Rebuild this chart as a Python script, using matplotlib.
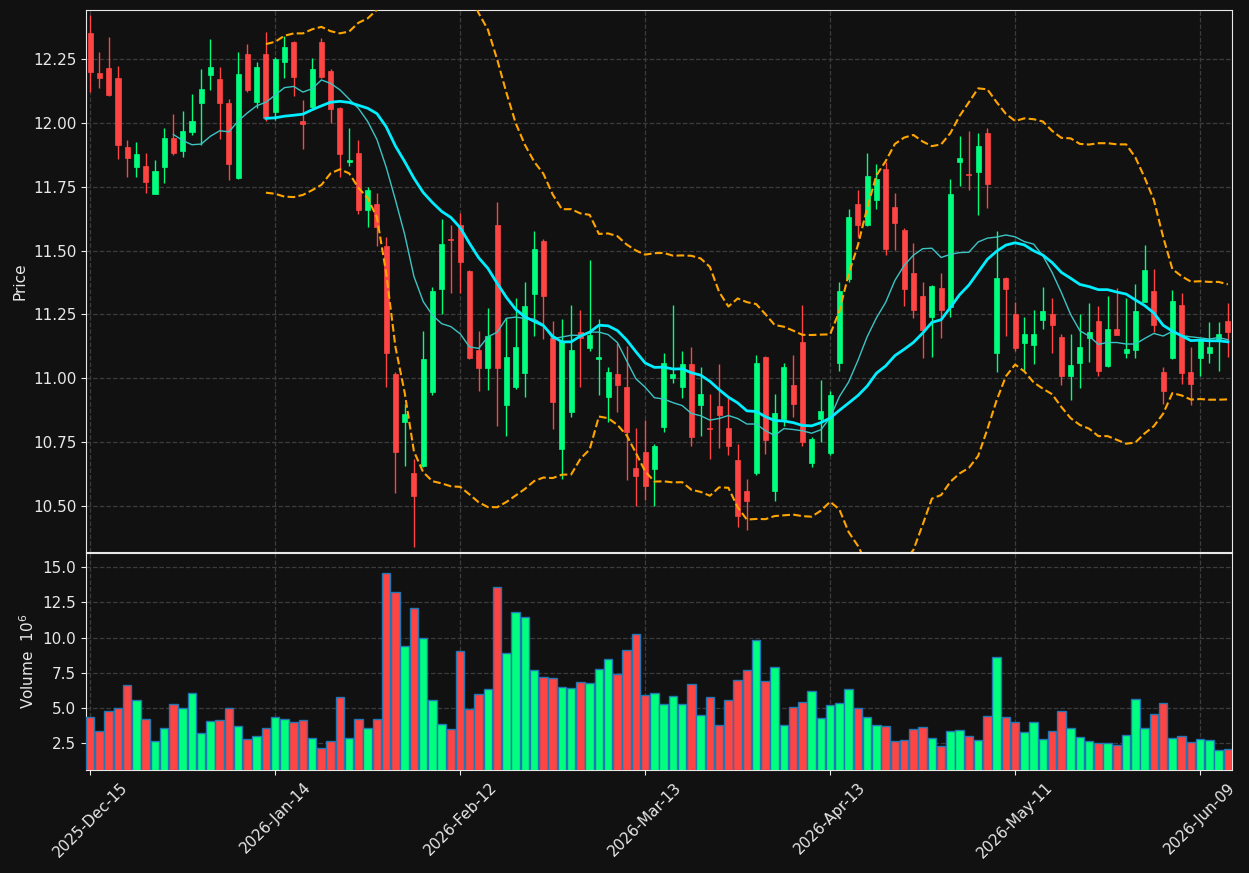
import numpy as np
import pandas as pd
import matplotlib
matplotlib.use("Agg")
import matplotlib.pyplot as plt

opens = [12.354, 12.197, 12.216, 12.176, 11.906, 11.828, 11.831, 11.723, 11.828, 11.942,
         11.891, 11.966, 12.077, 12.190, 12.174, 12.079, 11.786, 12.272, 12.084, 12.272,
         12.045, 12.238, 12.317, 12.009, 12.064, 12.317, 12.205, 12.059, 11.849, 11.884,
         11.659, 11.682, 11.516, 11.015, 10.827, 10.627, 10.657, 10.947, 11.350, 11.545,
         11.602, 11.419, 11.109, 11.040, 11.601, 10.895, 10.963, 11.021, 11.330, 11.538,
         11.159, 10.722, 10.868, 11.179, 11.118, 11.073, 10.927, 11.015, 10.963, 10.646,
         10.712, 10.644, 10.808, 11.002, 10.963, 11.055, 10.895, 10.804, 10.890, 10.804,
         10.677, 10.558, 10.627, 11.082, 10.556, 10.838, 10.972, 11.141, 10.667, 10.838,
         10.708, 11.060, 11.389, 11.682, 11.599, 11.699, 11.820, 11.670, 11.580, 11.411,
         11.321, 11.240, 11.354, 11.279, 11.848, 11.800, 11.809, 11.961, 11.100, 11.392,
         11.250, 11.138, 11.129, 11.227, 11.250, 11.161, 11.009, 11.060, 11.159, 11.223,
         11.047, 11.191, 11.100, 11.111, 11.298, 11.341, 11.022, 11.080, 11.288, 11.022,
         11.080, 11.100, 11.152, 11.223]
highs = [12.423, 12.277, 12.336, 12.223, 11.932, 11.924, 11.882, 11.854, 11.980, 12.036,
         12.048, 12.114, 12.210, 12.329, 12.219, 12.093, 12.277, 12.310, 12.239, 12.355,
         12.258, 12.341, 12.322, 12.090, 12.254, 12.333, 12.210, 12.062, 11.980, 11.932,
         11.748, 11.727, 11.554, 11.022, 10.899, 10.681, 11.186, 11.359, 11.625, 11.602,
         11.646, 11.422, 11.186, 11.273, 11.689, 11.234, 11.313, 11.378, 11.575, 11.547,
         11.224, 11.230, 11.288, 11.266, 11.463, 11.230, 11.043, 11.138, 11.127, 10.803,
         10.835, 10.743, 11.100, 11.288, 11.108, 11.122, 11.045, 10.939, 11.055, 10.923,
         10.743, 10.606, 11.089, 11.085, 10.936, 11.060, 11.089, 11.288, 10.770, 10.991,
         10.951, 11.377, 11.662, 11.738, 11.882, 11.838, 11.848, 11.725, 11.588, 11.531,
         11.375, 11.363, 11.411, 11.779, 11.950, 11.968, 11.959, 11.980, 11.575, 11.395,
         11.298, 11.240, 11.268, 11.356, 11.313, 11.172, 11.172, 11.250, 11.295, 11.281,
         11.322, 11.352, 11.315, 11.370, 11.520, 11.427, 11.043, 11.346, 11.332, 11.122,
         11.159, 11.220, 11.220, 11.295]
lows = [12.120, 12.137, 12.105, 11.858, 11.790, 11.790, 11.725, 11.720, 11.764, 11.875,
        11.865, 11.954, 11.912, 12.131, 11.939, 11.775, 11.780, 12.120, 12.059, 12.007,
        12.011, 12.178, 12.107, 11.898, 12.058, 12.178, 12.000, 11.789, 11.830, 11.643,
        11.591, 11.516, 10.963, 10.551, 10.657, 10.336, 10.652, 10.934, 11.253, 11.332,
        11.332, 11.073, 10.951, 10.955, 10.811, 10.773, 10.958, 10.926, 11.165, 11.152,
        10.801, 10.606, 10.849, 10.963, 11.108, 10.934, 10.828, 10.868, 10.602, 10.500,
        10.522, 10.500, 10.790, 10.981, 10.920, 10.733, 10.773, 10.684, 10.726, 10.697,
        10.415, 10.406, 10.620, 10.704, 10.517, 10.811, 10.849, 10.732, 10.650, 10.749,
        10.699, 11.029, 11.377, 11.554, 11.597, 11.662, 11.482, 11.504, 11.281, 11.234,
        11.077, 11.081, 11.159, 11.240, 11.752, 11.738, 11.640, 11.666, 11.022, 11.165,
        11.108, 11.029, 11.056, 11.193, 11.100, 10.974, 10.913, 10.961, 11.063, 11.009,
        11.043, 11.168, 11.077, 11.077, 11.297, 11.179, 10.899, 11.073, 10.977, 10.893,
        11.009, 11.060, 11.029, 11.084]
closes = [12.202, 12.175, 12.108, 11.912, 11.864, 11.879, 11.770, 11.812, 11.942, 11.884,
          11.969, 12.009, 12.134, 12.220, 12.077, 11.841, 12.193, 12.131, 12.220, 12.021,
          12.251, 12.299, 12.182, 11.998, 12.212, 12.182, 12.056, 11.880, 11.856, 11.659,
          11.737, 11.591, 11.099, 10.710, 10.858, 10.538, 11.074, 11.341, 11.526, 11.542,
          11.456, 11.079, 11.040, 11.163, 11.040, 11.082, 11.122, 11.284, 11.506, 11.321,
          10.906, 11.145, 11.109, 11.159, 11.168, 11.082, 11.024, 10.973, 10.789, 10.616,
          10.576, 10.733, 11.060, 11.015, 11.055, 10.770, 10.936, 10.800, 10.854, 10.732,
          10.459, 10.517, 11.060, 10.756, 10.863, 11.043, 10.899, 10.749, 10.760, 10.869,
          10.934, 11.341, 11.632, 11.599, 11.793, 11.782, 11.508, 11.609, 11.350, 11.268,
          11.190, 11.361, 11.268, 11.722, 11.861, 11.797, 11.910, 11.759, 11.392, 11.350,
          11.118, 11.172, 11.172, 11.261, 11.209, 11.009, 11.051, 11.122, 11.179, 11.029,
          11.191, 11.170, 11.114, 11.261, 11.423, 11.209, 10.950, 11.302, 11.019, 10.977,
          11.152, 11.122, 11.172, 11.179]
volumes_m = [4.34, 3.34, 4.76, 4.98, 6.61, 5.54, 4.19, 2.63, 3.55, 5.26,
             4.98, 6.04, 3.20, 4.05, 4.12, 4.98, 3.70, 2.77, 2.99, 3.55,
             4.34, 4.19, 3.98, 4.12, 2.84, 2.13, 2.63, 5.76, 2.84, 4.19,
             3.55, 4.19, 14.57, 13.22, 9.38, 12.09, 9.95, 5.54, 3.84, 3.48,
             9.03, 4.91, 5.97, 6.33, 13.58, 8.89, 11.80, 11.45, 7.68, 7.18,
             7.11, 6.47, 6.40, 6.82, 6.75, 7.75, 8.46, 7.39, 9.10, 10.24,
             5.90, 6.04, 5.26, 5.83, 5.26, 6.68, 4.48, 5.76, 3.77, 5.54,
             6.97, 7.68, 9.81, 6.90, 7.89, 3.77, 5.05, 5.40, 6.18, 4.27,
             5.19, 5.33, 6.33, 4.98, 4.34, 3.77, 3.70, 2.63, 2.70, 3.48,
             3.63, 2.84, 2.27, 3.34, 3.41, 2.99, 2.70, 4.41, 8.60, 4.34,
             3.98, 3.27, 3.98, 2.77, 3.34, 4.76, 3.55, 2.91, 2.63, 2.49,
             2.49, 2.35, 3.06, 5.62, 3.55, 4.55, 5.33, 2.84, 2.99, 2.56,
             2.77, 2.70, 1.99, 2.06]
tick_labels = ["2025-Dec-15", "2026-Jan-14", "2026-Feb-12", "2026-Mar-13",
               "2026-Apr-13", "2026-May-11", "2026-Jun-09"]

BG = "#111111"
UP = "#00ff7f"
DOWN = "#ff4444"
GRID = "#3c3c3c"
FG = "#e8e8e8"

o = np.array(opens); h = np.array(highs); l = np.array(lows); c = np.array(closes)
v = np.array(volumes_m)
n = len(c)
x = np.arange(n)
up = c >= o
colors = np.where(up, UP, DOWN)

cs = pd.Series(c)
ma10 = cs.rolling(10).mean()
ma20 = cs.rolling(20).mean()
sd20 = cs.rolling(20).std(ddof=0)
bb_up = ma20 + 2 * sd20
bb_lo = ma20 - 2 * sd20

fig = plt.figure(figsize=(12.49, 8.73), dpi=100, facecolor=BG)
ax = fig.add_axes([0.0689, 0.3677, 0.9175, 0.6208], facecolor=BG)
axv = fig.add_axes([0.0689, 0.1180, 0.9175, 0.2486], facecolor=BG, sharex=ax)

for a in (ax, axv):
    for s in a.spines.values():
        s.set_color(FG)
    a.tick_params(colors=FG, labelsize=11)
    a.grid(True, color=GRID, linestyle="--", linewidth=0.9)
    a.set_axisbelow(True)

# candles
ax.vlines(x, l, h, colors=colors, linewidth=1.0, zorder=2)
body_bottom = np.minimum(o, c)
body_h = np.maximum(np.abs(c - o), 0.004)
ax.bar(x, body_h, bottom=body_bottom, width=0.55, color=colors, edgecolor=colors,
       linewidth=0.5, zorder=3)

ax.plot(x, ma10, color="#3cc4c4", linewidth=1.0, zorder=4)
ax.plot(x, ma20, color="#00eeff", linewidth=2.0, zorder=4)
ax.plot(x, bb_up, color="orange", linewidth=1.5, linestyle="--", zorder=4)
ax.plot(x, bb_lo, color="orange", linewidth=1.5, linestyle="--", zorder=4)

ax.set_ylim(10.318, 12.443)
ax.set_yticks([10.50, 10.75, 11.00, 11.25, 11.50, 11.75, 12.00, 12.25])
ax.set_ylabel("Price", color=FG, fontsize=11)
ax.tick_params(axis="x", labelbottom=False, length=0)

# volume
axv.bar(x, v, width=0.92, color=colors, edgecolor="#1f77b4", linewidth=1.0, zorder=3)
axv.set_ylim(0.6, 16.0)
axv.set_yticks([2.5, 5.0, 7.5, 10.0, 12.5, 15.0])
axv.set_ylabel("Volume  $10^6$", color=FG, fontsize=11)

ticks = list(range(0, n, 20))
axv.set_xticks(ticks)
axv.set_xticklabels(tick_labels, rotation=45)
axv.set_xlim(-0.45, n - 1 + 0.45)

fig.savefig("out.png", dpi=100, facecolor=BG)
